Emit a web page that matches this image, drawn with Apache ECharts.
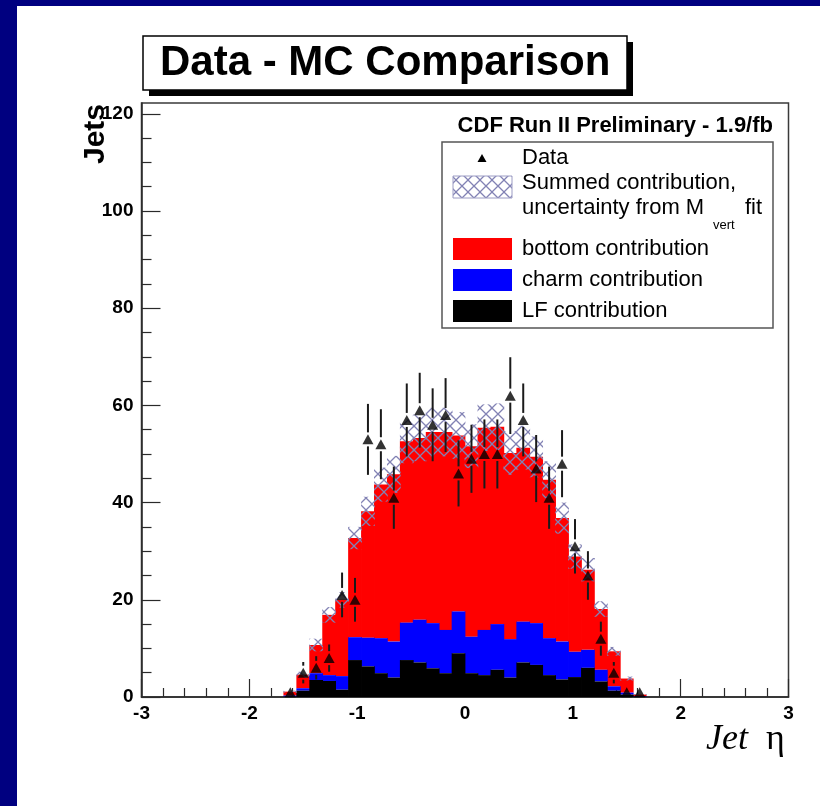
<!DOCTYPE html>
<html>
<head>
<meta charset="utf-8">
<script src="https://cdn.jsdelivr.net/npm/echarts@6.0.0/dist/echarts.min.js"></script>
<style>
  html, body { margin: 0; padding: 0; background: #000080; }
  #panel { position: absolute; left: 17px; top: 6px; right: 0; bottom: 0; background: #ffffff; }
  #c { position: absolute; left: 0; top: 0; width: 820px; height: 806px; }
</style>
</head>
<body>
<div id="panel"></div>
<div id="c"></div>
<script>
// ---- Data (bins of width 0.12 in Jet eta) ----
const binCenters = [-1.62, -1.50, -1.38, -1.26, -1.14, -1.02, -0.90, -0.78, -0.66, -0.54,
                    -0.42, -0.30, -0.18, -0.06, 0.06, 0.18, 0.30, 0.42, 0.54, 0.66,
                    0.78, 0.90, 1.02, 1.14, 1.26, 1.38, 1.50, 1.62];
const binWidth = 0.12;
const lfValues = [0.1, 1.3, 3.5, 3.3, 1.5, 7.6, 6.3, 4.9, 4.0, 7.6,
                  7.1, 5.9, 4.9, 9.0, 4.9, 4.5, 5.6, 4.0, 7.1, 6.6,
                  4.5, 3.6, 4.1, 6.0, 3.2, 1.3, 0.5, 0.1];
const charmValues = [0.2, 0.5, 1.4, 1.2, 2.8, 4.7, 5.9, 7.2, 7.4, 7.7,
                     8.8, 9.3, 8.9, 8.6, 7.5, 9.3, 9.4, 7.9, 8.4, 8.6,
                     7.6, 7.8, 5.2, 3.7, 2.4, 0.9, 0.4, 0.1];
const bottomValues = [0.8, 2.8, 5.8, 12.4, 15.7, 20.4, 26.0, 31.6, 34.4, 37.3,
                      37.4, 39.3, 40.7, 36.2, 39.2, 41.6, 40.6, 38.3, 35.8, 34.2,
                      32.6, 25.4, 19.6, 16.5, 12.5, 7.2, 2.9, 0.3];
const sumUncertainty = [0.2, 0.6, 1.3, 1.6, 1.6, 2.3, 3.0, 3.5, 3.8, 4.5,
                        4.8, 5.0, 5.0, 4.8, 4.5, 4.8, 4.8, 4.5, 4.5, 4.2,
                        3.8, 3.2, 2.5, 2.4, 1.6, 0.9, 0.4, 0.1];
const dataValues = [1, 5, 6, 8, 21, 20, 53, 52, 41, 57,
                    59, 56, 58, 46, 49, 50, 50, 62, 57, 47,
                    41, 48, 31, 25, 12, 5, 1, 1];
const dataErrors = [1.0, 2.2, 2.4, 2.8, 4.6, 4.5, 7.3, 7.2, 6.4, 7.5,
                    7.7, 7.5, 7.6, 6.8, 7.0, 7.1, 7.1, 7.9, 7.5, 6.9,
                    6.4, 6.9, 5.6, 5.0, 3.5, 2.2, 1.0, 1.0];
const xTickLabels = ['-3', '-2', '-1', '0', '1', '2', '3'];
const yTickLabels = ['0', '20', '40', '60', '80', '100', '120'];

// ---- Styles ----
const FONT = '"Liberation Sans", Arial, Helvetica, sans-serif';
const SERIF = '"Liberation Serif", "Times New Roman", serif';
const RED = '#ff0000', BLUE = '#0000ff', BLACK = '#000000';
const HATCH = '#8282b4';
const AXIS = '#2a2a2a';

// hatch pattern (cross-hatch like ROOT fill style)
const pc = document.createElement('canvas');
pc.width = 12; pc.height = 12;
const g = pc.getContext('2d');
g.strokeStyle = HATCH; g.lineWidth = 1.3;
g.beginPath();
g.moveTo(-2, -2); g.lineTo(14, 14);
g.moveTo(14, -2); g.lineTo(-2, 14);
g.stroke();
const hatchPattern = { image: pc, repeat: 'repeat' };

// stacked layers built from the component arrays
const blackData = binCenters.map((c, i) => [c, 0, lfValues[i]]);
const blueData = binCenters.map((c, i) => [c, lfValues[i], lfValues[i] + charmValues[i]]);
const redData = binCenters.map((c, i) => [c, lfValues[i] + charmValues[i], lfValues[i] + charmValues[i] + bottomValues[i]]);
const bandData = binCenters.map((c, i) => {
  const tot = lfValues[i] + charmValues[i] + bottomValues[i];
  return [c, Math.max(0, tot - sumUncertainty[i]), tot + sumUncertainty[i]];
});
const pointData = binCenters.map((c, i) => [c, dataValues[i]]);
const errData = binCenters.map((c, i) => [c, dataValues[i], dataErrors[i]]);

function binRect(fill) {
  return function (params, api) {
    const c = api.value(0), lo = api.value(1), hi = api.value(2);
    const p0 = api.coord([c - binWidth / 2, hi]);
    const p1 = api.coord([c + binWidth / 2, lo]);
    return {
      type: 'rect',
      shape: { x: p0[0] - 0.4, y: p0[1], width: p1[0] - p0[0] + 0.8, height: p1[1] - p0[1] },
      style: { fill: fill }
    };
  };
}

function errBar(params, api) {
  const c = api.value(0), v = api.value(1), e = api.value(2);
  const pm = api.coord([c, v]);
  const pt = api.coord([c, v + e]);
  const pb = api.coord([c, v - e]);
  const gap = 7;
  const children = [];
  if (pm[1] - gap > pt[1]) {
    children.push({ type: 'line', shape: { x1: pm[0], y1: pt[1], x2: pm[0], y2: pm[1] - gap },
      style: { stroke: '#1a1a1a', lineWidth: 2 } });
  }
  if (pb[1] > pm[1] + gap) {
    children.push({ type: 'line', shape: { x1: pm[0], y1: pm[1] + gap, x2: pm[0], y2: pb[1] },
      style: { stroke: '#1a1a1a', lineWidth: 2 } });
  }
  return { type: 'group', children: children };
}

const chart = echarts.init(document.getElementById('c'), null, { renderer: 'canvas' });

const legendText = { fill: '#000', fontSize: 22, fontFamily: FONT, verticalAlign: 'middle' };

chart.setOption({
  animation: false,
  backgroundColor: 'transparent',
  title: {
    text: 'Data - MC Comparison',
    left: 143, top: 36,
    padding: [4, 17],
    backgroundColor: '#ffffff',
    borderColor: '#000000',
    borderWidth: 1.5,
    z: 20,
    textStyle: { fontSize: 42, fontWeight: 'bold', fontFamily: FONT, color: '#000', lineHeight: 46 }
  },
  grid: [
    { left: 141.5, right: 31.5, top: 103, bottom: 109, show: true, borderColor: '#3a3a3a', borderWidth: 1.5,
      backgroundColor: 'transparent', outerBoundsMode: 'none', containLabel: false },
    { left: 141.5, right: 31.5, top: 113.8, bottom: 109, show: false, outerBoundsMode: 'none', containLabel: false }
  ],
  xAxis: [
    {
      gridIndex: 0, type: 'value', min: -3, max: 3, interval: 1, position: 'bottom',
      axisLine: { show: true, onZero: false, lineStyle: { color: AXIS, width: 1.5 } },
      axisTick: { show: true, inside: true, length: 18, lineStyle: { color: AXIS, width: 1.2 } },
      minorTick: { show: true, splitNumber: 5, length: 9, lineStyle: { color: AXIS, width: 1.2 } },
      splitLine: { show: false },
      axisLabel: {
        show: true, margin: 7, color: '#000', fontSize: 19, fontWeight: 'bold', fontFamily: FONT,
        showMinLabel: true, showMaxLabel: true,
        formatter: function (v) { const i = Math.round(v) + 3; return xTickLabels[i] !== undefined ? xTickLabels[i] : ''; }
      }
    },
    { gridIndex: 1, type: 'value', min: -3, max: 3, show: false, position: 'bottom',
      axisLine: { onZero: false } }
  ],
  yAxis: [
    {
      gridIndex: 0, type: 'value', min: 0, max: 122.2, position: 'left',
      axisLine: { show: true, onZero: false, lineStyle: { color: AXIS, width: 1.5 } },
      axisTick: { show: false }, axisLabel: { show: false }, splitLine: { show: false }
    },
    {
      gridIndex: 1, type: 'value', min: 0, max: 120, interval: 20, position: 'left',
      axisLine: { show: false, onZero: false },
      axisTick: { show: true, inside: true, length: 19, lineStyle: { color: AXIS, width: 1.2 } },
      minorTick: { show: true, splitNumber: 4, length: 10, lineStyle: { color: AXIS, width: 1.2 } },
      splitLine: { show: false },
      axisLabel: {
        show: true, margin: 8, color: '#000', fontSize: 19, fontWeight: 'bold', fontFamily: FONT,
        formatter: function (v) { const i = Math.round(v / 20); return yTickLabels[i] !== undefined ? yTickLabels[i] : ''; }
      }
    }
  ],
  series: [
    { name: 'bottom contribution', type: 'custom', xAxisIndex: 0, yAxisIndex: 0, z: 2,
      renderItem: binRect(RED), encode: { x: 0, y: [1, 2] }, data: redData },
    { name: 'charm contribution', type: 'custom', xAxisIndex: 0, yAxisIndex: 0, z: 3,
      renderItem: binRect(BLUE), encode: { x: 0, y: [1, 2] }, data: blueData },
    { name: 'LF contribution', type: 'custom', xAxisIndex: 0, yAxisIndex: 0, z: 4,
      renderItem: binRect(BLACK), encode: { x: 0, y: [1, 2] }, data: blackData },
    { name: 'Summed contribution', type: 'custom', xAxisIndex: 0, yAxisIndex: 0, z: 5,
      renderItem: binRect(hatchPattern), encode: { x: 0, y: [1, 2] }, data: bandData },
    { name: 'Data errors', type: 'custom', xAxisIndex: 0, yAxisIndex: 0, z: 6,
      renderItem: errBar, encode: { x: 0, y: 1 }, data: errData },
    { name: 'Data', type: 'scatter', xAxisIndex: 0, yAxisIndex: 0, z: 7,
      symbol: 'triangle', symbolSize: [11, 10], itemStyle: { color: '#000' }, data: pointData }
  ],
  graphic: [
    // hard drop shadow of the title box
    { type: 'rect', z: 1, shape: { x: 149, y: 42, width: 484, height: 54 }, style: { fill: '#000' } },
    // y axis title
    { type: 'text', x: 96, y: 134, rotation: Math.PI / 2, z: 10,
      style: { text: 'Jets', fill: '#000', fontSize: 30, fontWeight: 'bold', fontFamily: FONT, align: 'center', verticalAlign: 'middle' } },
    // x axis title
    { type: 'text', x: 706, y: 740, z: 10,
      style: { text: 'Jet', fill: '#000', fontSize: 36, fontStyle: 'italic', fontFamily: SERIF, align: 'left', verticalAlign: 'middle' } },
    { type: 'text', x: 766, y: 740, z: 10,
      style: { text: 'η', fill: '#000', fontSize: 36, fontFamily: SERIF, align: 'left', verticalAlign: 'middle' } },
    // legend header
    { type: 'text', x: 773, y: 126, z: 10,
      style: { text: 'CDF Run II Preliminary - 1.9/fb', fill: '#000', fontSize: 22, fontWeight: 'bold', fontFamily: FONT, align: 'right', verticalAlign: 'middle' } },
    // legend box
    { type: 'rect', z: 10, shape: { x: 442, y: 142, width: 331, height: 186 },
      style: { fill: '#ffffff', stroke: '#555555', lineWidth: 1.5 } },
    { type: 'polygon', z: 11, shape: { points: [[482, 154], [477.5, 162], [486.5, 162]] }, style: { fill: '#000' } },
    { type: 'text', x: 522, y: 158, z: 11, style: Object.assign({ text: 'Data' }, legendText) },
    { type: 'rect', z: 11, shape: { x: 453, y: 176, width: 59, height: 22 },
      style: { fill: hatchPattern, stroke: '#9c9cc4', lineWidth: 1 } },
    { type: 'text', x: 522, y: 183, z: 11, style: Object.assign({ text: 'Summed contribution,' }, legendText) },
    { type: 'text', x: 522, y: 208, z: 11, style: Object.assign({ text: 'uncertainty from M' }, legendText) },
    { type: 'text', x: 713, y: 225, z: 11, style: { text: 'vert', fill: '#000', fontSize: 13, fontFamily: FONT, verticalAlign: 'middle' } },
    { type: 'text', x: 745, y: 208, z: 11, style: Object.assign({ text: 'fit' }, legendText) },
    { type: 'rect', z: 11, shape: { x: 453, y: 238, width: 59, height: 22 }, style: { fill: RED } },
    { type: 'text', x: 522, y: 249, z: 11, style: Object.assign({ text: 'bottom contribution' }, legendText) },
    { type: 'rect', z: 11, shape: { x: 453, y: 269, width: 59, height: 22 }, style: { fill: BLUE } },
    { type: 'text', x: 522, y: 280, z: 11, style: Object.assign({ text: 'charm contribution' }, legendText) },
    { type: 'rect', z: 11, shape: { x: 453, y: 300, width: 59, height: 22 }, style: { fill: BLACK } },
    { type: 'text', x: 522, y: 311, z: 11, style: Object.assign({ text: 'LF contribution' }, legendText) }
  ]
});
</script>
</body>
</html>
